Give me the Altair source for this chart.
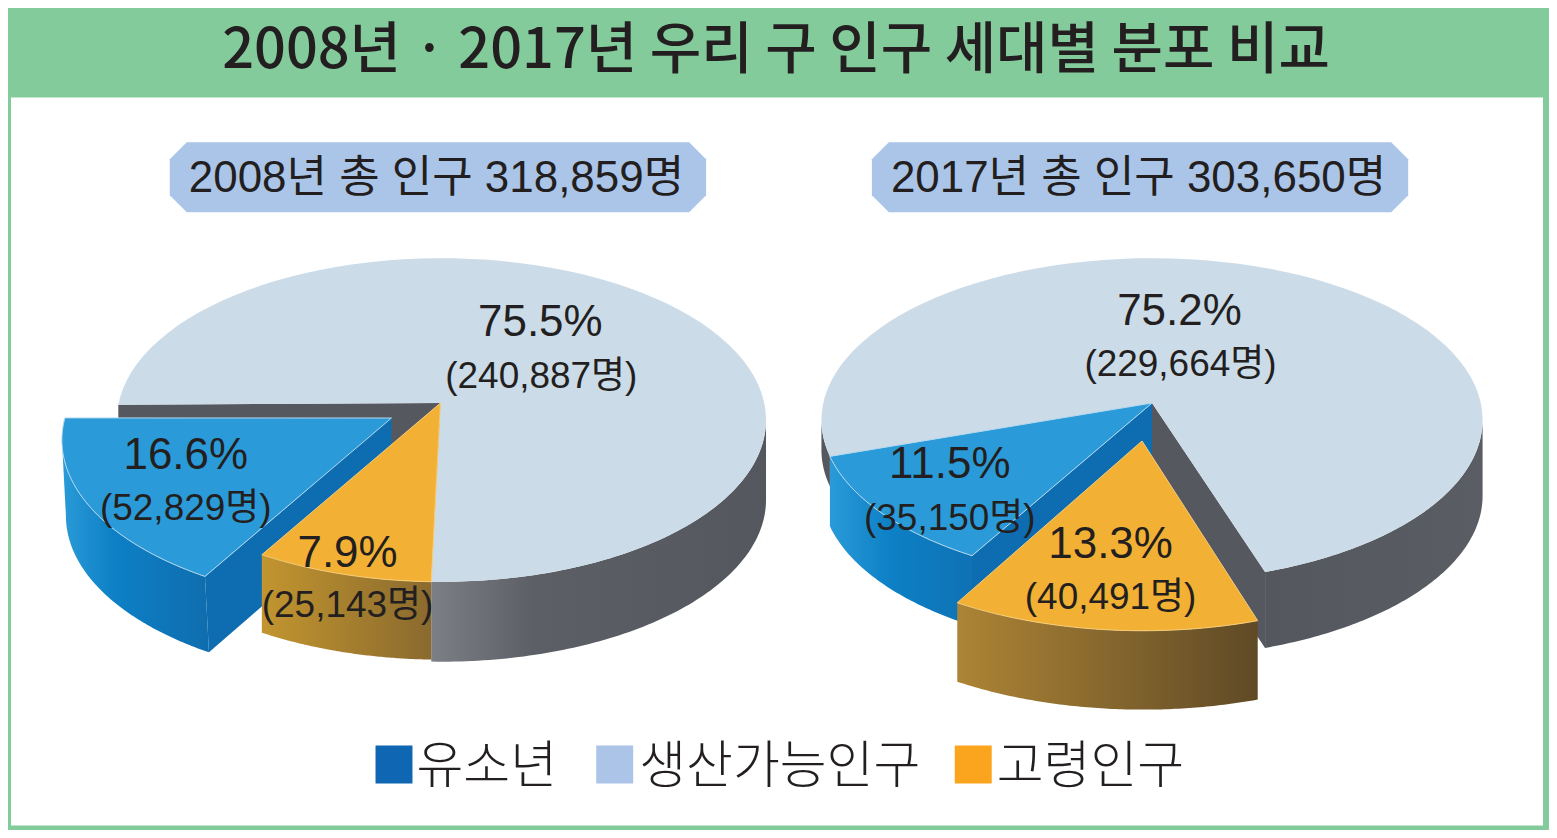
import numpy as np
import pandas as pd
import altair as alt

# ---------- values ----------
title_text = "2008년 · 2017년 우리 구 인구 세대별 분포 비교"
years = [2008, 2017]
totals = [318859, 303650]
legend_names = ["유소년", "생산가능인구", "고령인구"]
legend_colors = ["#0F66B2", "#ABC4E7", "#FBA51E"]
shares_2008 = {"youth": 16.6, "working": 75.5, "elderly": 7.9}
counts_2008 = {"youth": 52829, "working": 240887, "elderly": 25143}
shares_2017 = {"youth": 11.5, "working": 75.2, "elderly": 13.3}
counts_2017 = {"youth": 35150, "working": 229664, "elderly": 40491}

# ---------- styling ----------
GREEN = "#84CB9C"
INK = "#231F20"
PILL = "#ABC5E8"
MAIN_TOP = "#CBDBE8"
GRAY = "#55585F"
BLUE_TOP = "#2A9BD8"
BLUE_SIDE = "#0E6DB1"
ORANGE_TOP = "#F2B134"
HANGUL = "Noto Sans CJK KR"
WIDE = f"Liberation Sans, {HANGUL}"


def grad(*stops):
    return alt.LinearGradient(
        gradient="linear", x1=0, x2=1, y1=0, y2=0,
        stops=[alt.GradientStop(offset=o, color=c) for o, c in stops],
    )


GRAY_WALL = grad((0, "#7C7F86"), (0.3, "#5C5F65"), (1, "#54575D"))
BLUE_WALL = grad((0, "#2A9BD8"), (0.35, "#0D80C6"), (1, "#0F6DAE"))
ORANGE_WALL_1 = grad((0, "#C2952F"), (1, "#8A6A2E"))
ORANGE_WALL_2 = grad((0, "#AD8435"), (1, "#5F4A26"))

X = alt.Scale(domain=[8, 1551], nice=False, zero=False)
Y = alt.Scale(domain=[830, 8], nice=False, zero=False)


def poly(pts, fill, stroke=None, sw=1):
    pts = list(pts) + [pts[0]]
    df = pd.DataFrame({"x": [p[0] for p in pts], "y": [p[1] for p in pts], "i": range(len(pts))})
    kw = {"fill": fill, "strokeWidth": sw, "stroke": stroke if stroke else "transparent"}
    return alt.Chart(df).mark_line(**kw).encode(
        x=alt.X("x:Q", scale=X, axis=None),
        y=alt.Y("y:Q", scale=Y, axis=None),
        order="i:Q",
    )


def arc(c, t0, t1):
    t = np.radians(np.linspace(t0, t1, 90))
    return list(zip(c[0] + c[2] * np.cos(t), c[1] + c[3] * np.sin(t)))


def shift(pts, dx, dy):
    return [(x + dx, y + dy) for x, y in pts]


def wall(c, t0, t1, depth, fill, dx=0):
    a = arc(c, t0, t1)
    return poly(a + shift(a, dx, depth)[::-1], fill)


def text(rows, size, font=WIDE, weight="normal", color=INK, align="center"):
    df = pd.DataFrame(rows, columns=["x", "y", "t"])
    return alt.Chart(df).mark_text(
        fontSize=size, font=font, fontWeight=weight, color=color, align=align, baseline="middle"
    ).encode(
        x=alt.X("x:Q", scale=X, axis=None),
        y=alt.Y("y:Q", scale=Y, axis=None),
        text="t:N",
    )


def pill(x0, x1):
    y0, y1, c = 142, 212, 17
    return poly([(x0 + c, y0), (x1 - c, y0), (x1, y0 + c), (x1, y1 - c), (x1 - c, y1), (x0 + c, y1), (x0, y1 - c), (x0, y0 + c)], PILL)


layers = []
# frame
layers.append(poly([(0, 0), (1551, 0), (1551, 831), (0, 831)], GREEN))
layers.append(poly([(11, 97), (1545, 97), (1545, 826), (11, 826)], "#FFFFFF"))
layers.append(text([(777, 51, title_text)], 56, font=HANGUL, weight=500))

# subtitles
layers += [pill(170, 707), pill(873, 1410)]

# ---------- 2008 pie ----------
s = shares_2008
E1 = (442, 420, 325, 162)
apex1 = (441, 403)
start = 91.8
m_end = start - s["working"] * 3.6 * 0.98
o_end = start + s["elderly"] * 3.6 * 1.118
layers.append(wall(E1, 0, start, 80, GRAY_WALL))
main_arc = arc(E1, start, m_end)
layers.append(poly([apex1, main_arc[-1], (main_arc[-1][0], main_arc[-1][1] + 80), (apex1[0], apex1[1] + 80)], GRAY))
layers.append(poly([apex1] + main_arc, MAIN_TOP))
# exploded youth slice
E1b = (388, 440, 326, 165)
apex1b = (392, 418)
b0 = 124.1
b1 = b0 + s["youth"] * 3.6 * 1.064
barc = arc(E1b, b0, b1)
layers.append(wall(E1b, b0, 180, 76, BLUE_WALL, dx=4))
layers.append(poly([apex1b, barc[0], (barc[0][0] + 4, barc[0][1] + 76), (apex1b[0], apex1b[1] + 76)], BLUE_SIDE))
layers.append(poly([apex1b] + barc, BLUE_TOP, stroke="#B5D8EE"))
# elderly slice
layers.append(wall(E1, start, o_end, 78, ORANGE_WALL_1))
layers.append(poly([apex1] + arc(E1, start, o_end), ORANGE_TOP, stroke="#F6CC78"))

# ---------- 2017 pie ----------
s = shares_2017
E2 = (1153.5, 420, 331, 162)
apex2 = (1153.5, 403)
m0 = 70.0
m_end = m0 - s["working"] * 3.6 * 0.9715
main_arc = arc(E2, m0, m_end)
layers.append(wall(E2, 0, m0, 76, grad((0, "#54575D"), (1, "#5A5D64"))))
layers.append(wall(E2, 167, 180, 30, GRAY))
layers.append(poly([apex2, main_arc[0], (main_arc[0][0], main_arc[0][1] + 76), (apex2[0], apex2[1] + 76)], GRAY))
layers.append(poly([apex2] + main_arc, MAIN_TOP))
# youth slice
b1 = m_end + 360
b0 = b1 - s["youth"] * 3.6 * 1.063
barc = arc(E2, b0, b1)
layers.append(wall(E2, b0 - 6, b1, 70, BLUE_WALL))
layers.append(poly([apex2, barc[0], (barc[0][0], barc[0][1] + 70), (apex2[0], apex2[1] + 70)], BLUE_SIDE))
layers.append(poly([apex2] + barc, BLUE_TOP, stroke="#B5D8EE"))
# exploded elderly slice
E2o = (1144.5, 469, 331, 162)
apex2o = (1143.5, 441)
o0 = 69.7
o1 = o0 + s["elderly"] * 3.6 * 1.138
layers.append(wall(E2o, o0, o1, 79, ORANGE_WALL_2))
layers.append(poly([apex2o] + arc(E2o, o0, o1), ORANGE_TOP, stroke="#F6CC78"))


# ---------- labels ----------
def pct(v):
    return f"{v}%"


def cnt(v):
    return f"({v:,}명)"


pct_rows = [
    (541, 323, pct(shares_2008["working"])),
    (186, 456, pct(shares_2008["youth"])),
    (348, 554, pct(shares_2008["elderly"])),
    (1181, 312, pct(shares_2017["working"])),
    (951, 465, pct(shares_2017["youth"])),
    (1112, 545, pct(shares_2017["elderly"])),
]
cnt_rows = [
    (542, 377, cnt(counts_2008["working"])),
    (186, 509, cnt(counts_2008["youth"])),
    (348, 606, cnt(counts_2008["elderly"])),
    (1182, 365, cnt(counts_2017["working"])),
    (951, 519, cnt(counts_2017["youth"])),
    (1112, 598, cnt(counts_2017["elderly"])),
]
layers.append(text(pct_rows, 44))
layers.append(text(cnt_rows, 37))
layers.append(text([
    (437, 179, f"{years[0]}년 총 인구 {totals[0]:,}명"),
    (1140, 179, f"{years[1]}년 총 인구 {totals[1]:,}명"),
], 44))

# ---------- legend ----------
leg_x = [376, 597, 956]
leg_text_x = [417, 640, 998]
for lx, name, col, tx in zip(leg_x, legend_names, legend_colors, leg_text_x):
    layers.append(poly([(lx, 746), (lx + 37, 746), (lx + 37, 784), (lx, 784)], col))
    layers.append(text([(tx, 768, name)], 51, font=HANGUL, weight=300, align="left"))

chart = (
    alt.layer(*layers)
    .properties(width=1543, height=822, padding=0, autosize=alt.AutoSizeParams(type="none"), background="#FFFFFF")
    .configure_view(stroke=None)
)
chart.save("out.html", embed_options={"renderer": "svg", "actions": False})
